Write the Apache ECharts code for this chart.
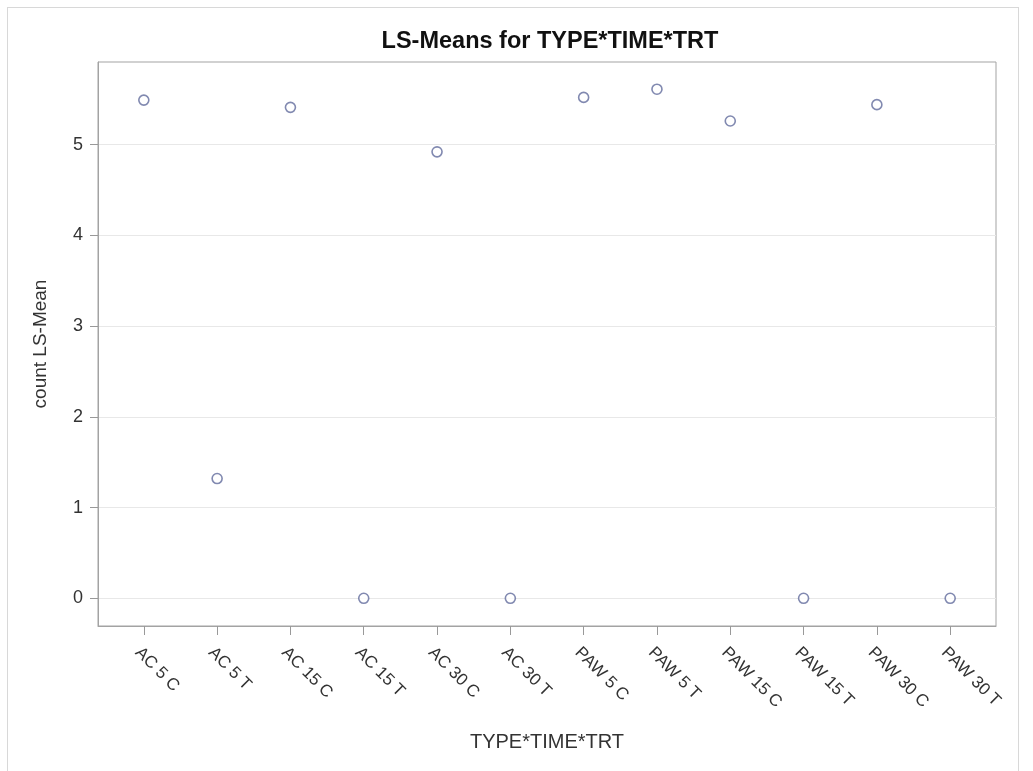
<!DOCTYPE html>
<html>
<head>
<meta charset="utf-8">
<script src="https://cdn.jsdelivr.net/npm/echarts@6/dist/echarts.min.js"></script>
<style>
  html, body { margin:0; padding:0; background:#fff; }
  #frame { position:absolute; left:7px; top:7px; width:1012px; height:800px; border:1px solid #d8d8d8; box-sizing:border-box; }
  #chart { position:absolute; left:0; top:0; width:1033px; height:771px; }
</style>
</head>
<body>
<div id="frame"></div>
<div id="chart"></div>
<script>
// categories on the x axis (TYPE TIME TRT)
const categories = ['AC 5 C','AC 5 T','AC 15 C','AC 15 T','AC 30 C','AC 30 T',
                    'PAW 5 C','PAW 5 T','PAW 15 C','PAW 15 T','PAW 30 C','PAW 30 T'];
// LS-mean of count per category
const lsMeans = [5.49, 1.32, 5.41, 0, 4.92, 0, 5.52, 5.61, 5.26, 0, 5.44, 0];
const yTicks = [0, 1, 2, 3, 4, 5];

const chart = echarts.init(document.getElementById('chart'), null, { renderer:'canvas' });
const font = 'Liberation Sans, Arial, sans-serif';
const catIdx = categories.map((c,i) => i);

chart.setOption({
  animation: false,
  title: {
    text: 'LS-Means for TYPE*TIME*TRT',
    left: 545, top: 25, textAlign: 'center',
    textStyle: { fontFamily: font, fontSize: 23.5, fontWeight: 'bold', color: '#111' }
  },
  grid: { left: 98, right: 37, top: 62, bottom: 145, show: true, borderColor: '#a3a3a3', borderWidth: 1, containLabel: false },
  xAxis: {
    type: 'value', min: -0.625, max: 11.625,
    name: 'TYPE*TIME*TRT', nameLocation: 'middle', nameGap: 106,
    nameTextStyle: { fontFamily: font, fontSize: 20, color: '#333' },
    axisLine: { show: true, onZero: false, lineStyle: { color: '#a3a3a3' } },
    axisTick: { show: true, customValues: catIdx, length: 9, lineStyle: { color: '#999' } },
    axisLabel: {
      customValues: catIdx, rotate: -45, margin: 18, verticalAlign: 'top',
      fontFamily: font, fontSize: 17, color: '#333',
      formatter: v => categories[Math.round(v)] ?? ''
    },
    splitLine: { show: false }
  },
  yAxis: {
    type: 'value', min: -0.305, max: 5.91,
    name: 'count LS-Mean', nameLocation: 'middle', nameGap: 48, nameRotate: 90,
    nameTextStyle: { fontFamily: font, fontSize: 19, color: '#333' },
    axisLine: { show: true, onZero: false, lineStyle: { color: '#a3a3a3' } },
    axisTick: { show: true, customValues: yTicks, length: 8, lineStyle: { color: '#999' } },
    axisLabel: { customValues: yTicks, margin: 15, fontFamily: font, fontSize: 18, color: '#333' },
    splitLine: { show: true, lineStyle: { color: '#e8e8e8', width: 1 } }
  },
  series: [{
    type: 'scatter',
    data: lsMeans.map((v,i) => [i, v]),
    symbol: 'circle', symbolSize: 10,
    itemStyle: { color: '#fff', borderColor: '#626c9c', borderWidth: 1.6 }
  }]
});
</script>
</body>
</html>
